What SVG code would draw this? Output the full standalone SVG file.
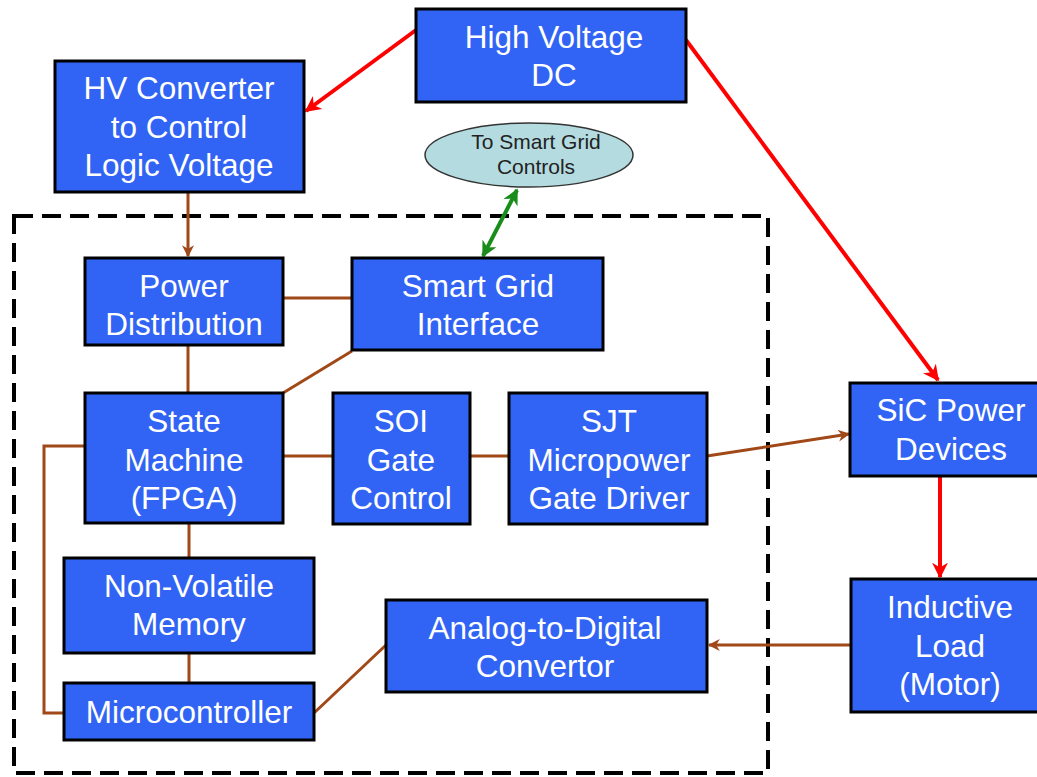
<svg xmlns="http://www.w3.org/2000/svg" width="1037" height="777" viewBox="0 0 1037 777">
<defs>
<style>
.box{fill:#3164F4;stroke:#000;stroke-width:3}
.t{font-family:"Liberation Sans",Arial,sans-serif;font-size:31.5px;fill:#fff;text-anchor:middle}
.et{font-family:"Liberation Sans",Arial,sans-serif;font-size:21px;fill:#222;text-anchor:middle}
.br{stroke:#A04818;stroke-width:3;fill:none}
.rd{stroke:#F00;stroke-width:4;fill:none}
.gr{stroke:#1A8C1A;stroke-width:4;fill:none}
</style>
<marker id="ar" viewBox="0 0 10 10" refX="9" refY="5" markerWidth="4" markerHeight="4" orient="auto"><path d="M0,0 L10,5 L0,10 L3,5 Z" fill="#F00"/></marker>
<marker id="ab" viewBox="0 0 10 10" refX="9" refY="5" markerWidth="4" markerHeight="4" orient="auto"><path d="M0,0 L10,5 L0,10 L3,5 Z" fill="#A04818"/></marker>
<marker id="ag" viewBox="0 0 10 10" refX="9" refY="5" markerWidth="4" markerHeight="4" orient="auto-start-reverse"><path d="M0,0 L10,5 L0,10 L3,5 Z" fill="#1A8C1A"/></marker>
</defs>
<rect width="1037" height="777" fill="#fff"/>
<rect x="14" y="216" width="754" height="557" fill="none" stroke="#000" stroke-width="4" stroke-dasharray="19,9"/>
<g id="connectors">
<line class="rd" x1="416" y1="30" x2="306" y2="111" marker-end="url(#ar)"/>
<line class="rd" x1="686" y1="40" x2="938" y2="380" marker-end="url(#ar)"/>
<line class="rd" x1="940" y1="477" x2="940" y2="577" marker-end="url(#ar)"/>
<line class="br" x1="188" y1="193" x2="188" y2="256" marker-end="url(#ab)"/>
<line class="gr" x1="517" y1="190" x2="483" y2="256" marker-start="url(#ag)" marker-end="url(#ag)"/>
<line class="br" x1="283" y1="298" x2="352" y2="298"/>
<line class="br" x1="188" y1="345" x2="188" y2="393"/>
<line class="br" x1="352" y1="351" x2="283" y2="393"/>
<line class="br" x1="283" y1="456" x2="333" y2="456"/>
<line class="br" x1="470" y1="456" x2="509" y2="456"/>
<line class="br" x1="707" y1="456" x2="849" y2="434" marker-end="url(#ab)"/>
<line class="br" x1="189" y1="523" x2="189" y2="558"/>
<line class="br" x1="189" y1="653" x2="189" y2="683"/>
<polyline class="br" points="85,446 44,446 44,713 64,713"/>
<line class="br" x1="314" y1="713" x2="386" y2="645"/>
<line class="br" x1="851" y1="645" x2="709" y2="645" marker-end="url(#ab)"/>
</g>
<g id="hvdc"><rect class="box" x="416" y="9" width="270" height="93"/><text class="t" x="554" y="48">High Voltage</text><text class="t" x="554" y="86">DC</text></g>
<g id="hvconv"><rect class="box" x="55" y="61" width="249" height="131"/><text class="t" x="179" y="99">HV Converter</text><text class="t" x="179" y="138">to Control</text><text class="t" x="179" y="176">Logic Voltage</text></g>
<g id="sgc"><ellipse cx="529" cy="155" rx="104" ry="32" fill="#B4DCE0" stroke="#333" stroke-width="1.5"/><text class="et" x="536" y="149">To Smart Grid</text><text class="et" x="536" y="174">Controls</text></g>
<g id="pd"><rect class="box" x="85" y="258" width="198" height="87"/><text class="t" x="184" y="297">Power</text><text class="t" x="184" y="335">Distribution</text></g>
<g id="sgi"><rect class="box" x="352" y="258" width="251" height="92"/><text class="t" x="478" y="297">Smart Grid</text><text class="t" x="478" y="335">Interface</text></g>
<g id="sm"><rect class="box" x="85" y="393" width="198" height="130"/><text class="t" x="184" y="432">State</text><text class="t" x="184" y="471">Machine</text><text class="t" x="184" y="509">(FPGA)</text></g>
<g id="soi"><rect class="box" x="333" y="393" width="137" height="131"/><text class="t" x="401" y="432">SOI</text><text class="t" x="401" y="471">Gate</text><text class="t" x="401" y="509">Control</text></g>
<g id="sjt"><rect class="box" x="509" y="393" width="198" height="131"/><text class="t" x="609" y="432">SJT</text><text class="t" x="609" y="471">Micropower</text><text class="t" x="609" y="509">Gate Driver</text></g>
<g id="sic"><rect class="box" x="850" y="383" width="192" height="93"/><text class="t" x="951" y="421">SiC Power</text><text class="t" x="951" y="460">Devices</text></g>
<g id="load"><rect class="box" x="851" y="579" width="190" height="133"/><text class="t" x="950" y="618">Inductive</text><text class="t" x="950" y="657">Load</text><text class="t" x="950" y="695">(Motor)</text></g>
<g id="nvm"><rect class="box" x="64" y="558" width="250" height="95"/><text class="t" x="189" y="597">Non-Volatile</text><text class="t" x="189" y="635">Memory</text></g>
<g id="mcu"><rect class="box" x="64" y="683" width="250" height="57"/><text class="t" x="189" y="723">Microcontroller</text></g>
<g id="adc"><rect class="box" x="386" y="600" width="321" height="92"/><text class="t" x="545" y="639">Analog-to-Digital</text><text class="t" x="545" y="677">Convertor</text></g>
</svg>
